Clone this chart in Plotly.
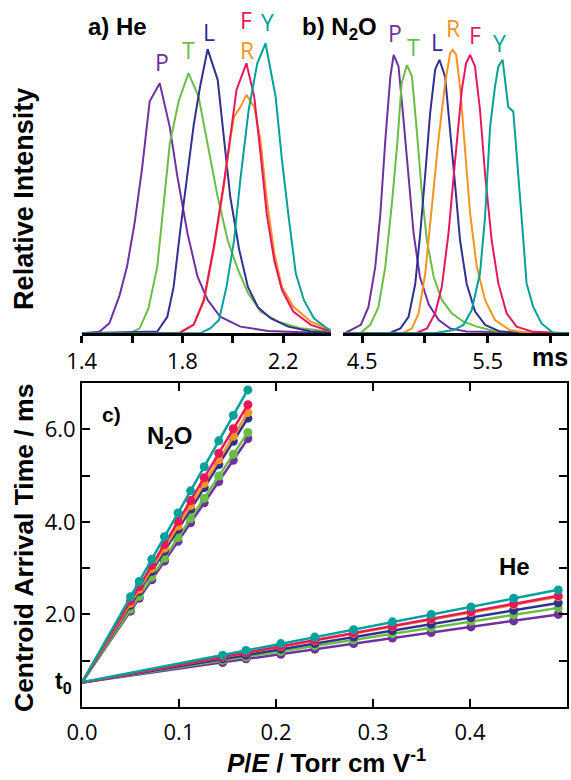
import numpy as np
import plotly.graph_objects as go

# ---------------- arrival-time distributions, He buffer (ms, relative intensity)
HE_P_X = [1.40, 1.47, 1.51, 1.55, 1.58, 1.61, 1.64, 1.67, 1.71, 1.75, 1.78, 1.82, 1.86, 1.90, 1.95, 2.03, 2.14, 2.39]
HE_P_Y = [0, 0.005, 0.035, 0.13, 0.23, 0.38, 0.57, 0.80, 0.862, 0.71, 0.54, 0.345, 0.195, 0.115, 0.057, 0.023, 0.008, 0]
HE_T_X = [1.40, 1.59, 1.63, 1.665, 1.70, 1.725, 1.75, 1.785, 1.824, 1.864, 1.90, 1.94, 1.98, 2.02, 2.06, 2.11, 2.18, 2.27, 2.39]
HE_T_Y = [0, 0, 0.017, 0.086, 0.23, 0.44, 0.655, 0.80, 0.897, 0.816, 0.655, 0.47, 0.32, 0.22, 0.14, 0.075, 0.04, 0.017, 0.005]
HE_L_X = [1.40, 1.70, 1.74, 1.765, 1.79, 1.82, 1.845, 1.87, 1.90, 1.94, 1.965, 1.99, 2.025, 2.06, 2.10, 2.15, 2.22, 2.31, 2.39]
HE_L_Y = [0, 0.006, 0.057, 0.16, 0.345, 0.55, 0.72, 0.85, 0.98, 0.874, 0.68, 0.47, 0.29, 0.16, 0.09, 0.052, 0.023, 0.006, 0.002]
HE_R_X = [1.40, 1.79, 1.845, 1.885, 1.925, 1.965, 1.99, 2.005, 2.03, 2.054, 2.085, 2.11, 2.135, 2.165, 2.195, 2.24, 2.31, 2.39]
HE_R_Y = [0, 0.002, 0.03, 0.11, 0.29, 0.51, 0.667, 0.747, 0.78, 0.822, 0.78, 0.667, 0.46, 0.276, 0.16, 0.092, 0.04, 0.012]
HE_F_X = [1.40, 1.79, 1.845, 1.885, 1.925, 1.965, 1.995, 2.015, 2.054, 2.085, 2.11, 2.135, 2.165, 2.195, 2.24, 2.31, 2.39]
HE_F_Y = [0, 0.002, 0.03, 0.115, 0.30, 0.52, 0.71, 0.84, 0.931, 0.816, 0.62, 0.41, 0.25, 0.15, 0.075, 0.029, 0.006]
HE_Y_X = [1.40, 1.87, 1.91, 1.945, 1.975, 2.005, 2.03, 2.063, 2.097, 2.13, 2.17, 2.195, 2.222, 2.25, 2.282, 2.322, 2.39]
HE_Y_Y = [0, 0, 0.017, 0.046, 0.16, 0.32, 0.53, 0.77, 0.93, 1.0, 0.816, 0.60, 0.40, 0.207, 0.115, 0.052, 0.006]

# ---------------- arrival-time distributions, N2O buffer
N2O_P_X = [4.35, 4.37, 4.49, 4.55, 4.605, 4.645, 4.685, 4.725, 4.751, 4.79, 4.83, 4.87, 4.91, 4.96, 5.03, 5.11, 5.20, 5.33, 6.15]
N2O_P_Y = [0, 0.002, 0.029, 0.09, 0.23, 0.41, 0.667, 0.885, 0.96, 0.92, 0.735, 0.53, 0.345, 0.195, 0.10, 0.046, 0.017, 0.006, 0]
N2O_T_X = [4.35, 4.49, 4.565, 4.63, 4.685, 4.74, 4.78, 4.815, 4.857, 4.897, 4.937, 4.976, 5.016, 5.07, 5.135, 5.214, 5.307, 5.413, 5.545, 5.70, 6.15]
N2O_T_Y = [0, 0.002, 0.029, 0.09, 0.23, 0.46, 0.655, 0.862, 0.925, 0.885, 0.69, 0.483, 0.32, 0.195, 0.115, 0.069, 0.04, 0.023, 0.009, 0.002, 0]
N2O_L_X = [4.35, 4.725, 4.805, 4.87, 4.923, 4.963, 5.003, 5.042, 5.082, 5.116, 5.161, 5.201, 5.241, 5.28, 5.333, 5.40, 5.48, 5.60, 5.76, 6.15]
N2O_L_Y = [0, 0.002, 0.017, 0.057, 0.17, 0.345, 0.55, 0.76, 0.91, 0.943, 0.885, 0.71, 0.51, 0.32, 0.17, 0.075, 0.029, 0.006, 0.002, 0]
N2O_R_X = [4.35, 4.83, 4.897, 4.95, 5.003, 5.056, 5.108, 5.161, 5.201, 5.222, 5.249, 5.28, 5.32, 5.36, 5.413, 5.479, 5.558, 5.677, 5.81, 6.15]
N2O_R_Y = [0, 0.002, 0.017, 0.069, 0.207, 0.437, 0.667, 0.862, 0.966, 0.977, 0.96, 0.85, 0.644, 0.414, 0.23, 0.115, 0.046, 0.011, 0.002, 0]
N2O_F_X = [4.35, 4.937, 5.016, 5.082, 5.135, 5.188, 5.241, 5.294, 5.328, 5.36, 5.399, 5.439, 5.479, 5.532, 5.585, 5.651, 5.73, 5.862, 6.15]
N2O_F_Y = [0, 0.002, 0.017, 0.069, 0.161, 0.345, 0.598, 0.839, 0.931, 0.96, 0.92, 0.77, 0.55, 0.32, 0.172, 0.069, 0.023, 0.005, 0]
N2O_Y_X = [4.35, 5.095, 5.228, 5.307, 5.373, 5.439, 5.479, 5.519, 5.558, 5.585, 5.619, 5.664, 5.704, 5.73, 5.77, 5.81, 5.862, 5.929, 6.02, 6.15]
N2O_Y_Y = [0, 0.002, 0.011, 0.029, 0.08, 0.207, 0.40, 0.71, 0.85, 0.92, 0.943, 0.78, 0.765, 0.63, 0.40, 0.172, 0.092, 0.034, 0.002, 0]

# ---------------- centroid arrival time vs P/E
HE_PE = [0.145, 0.169, 0.205, 0.240, 0.280, 0.320, 0.360, 0.401, 0.445, 0.491]
HE_TD_P = [0.96, 1.04, 1.14, 1.25, 1.37, 1.49, 1.61, 1.73, 1.86, 2.00]
HE_TD_T = [1.01, 1.08, 1.20, 1.32, 1.45, 1.58, 1.71, 1.85, 1.99, 2.14]
HE_TD_L = [1.04, 1.12, 1.25, 1.37, 1.51, 1.65, 1.79, 1.93, 2.09, 2.25]
HE_TD_R = [1.08, 1.17, 1.30, 1.43, 1.59, 1.74, 1.89, 2.04, 2.21, 2.38]
HE_TD_F = [1.08, 1.17, 1.31, 1.44, 1.60, 1.75, 1.90, 2.06, 2.23, 2.40]
HE_TD_Y = [1.12, 1.22, 1.37, 1.51, 1.67, 1.84, 2.00, 2.16, 2.35, 2.53]

N2O_PE = [0.050, 0.059, 0.072, 0.085, 0.099, 0.112, 0.126, 0.141, 0.156, 0.171]
N2O_TD_P = [2.07, 2.35, 2.75, 3.15, 3.58, 3.98, 4.41, 4.87, 5.33, 5.80]
N2O_TD_T = [2.11, 2.39, 2.81, 3.22, 3.66, 4.07, 4.51, 4.99, 5.46, 5.93]
N2O_TD_L = [2.20, 2.50, 2.93, 3.37, 3.84, 4.27, 4.74, 5.24, 5.74, 6.24]
N2O_TD_R = [2.24, 2.54, 2.99, 3.43, 3.91, 4.35, 4.83, 5.34, 5.85, 6.36]
N2O_TD_F = [2.29, 2.60, 3.06, 3.51, 4.01, 4.46, 4.95, 5.48, 6.01, 6.53]
N2O_TD_Y = [2.38, 2.71, 3.19, 3.68, 4.19, 4.67, 5.19, 5.75, 6.30, 6.85]

LABELS = ["P", "T", "L", "R", "F", "Y"]
COLORS = {"P": "#7030a0", "T": "#6abd45", "L": "#2e3192",
          "R": "#f7931e", "F": "#e8175d", "Y": "#00a19a"}

# peak-label anchor positions (ms, relative intensity)
HE_LABEL_POS = {"P": (1.718, 0.937), "T": (1.824, 0.977), "L": (1.904, 1.040),
                "R": (2.057, 0.977), "F": (2.054, 1.080), "Y": (2.136, 1.075)}
N2O_LABEL_POS = {"P": (4.764, 1.034), "T": (4.910, 0.988), "L": (5.095, 1.006),
                 "R": (5.227, 1.052), "F": (5.399, 1.029), "Y": (5.598, 1.000)}

he_atd = {"P": (HE_P_X, HE_P_Y), "T": (HE_T_X, HE_T_Y), "L": (HE_L_X, HE_L_Y),
          "R": (HE_R_X, HE_R_Y), "F": (HE_F_X, HE_F_Y), "Y": (HE_Y_X, HE_Y_Y)}
n2o_atd = {"P": (N2O_P_X, N2O_P_Y), "T": (N2O_T_X, N2O_T_Y), "L": (N2O_L_X, N2O_L_Y),
           "R": (N2O_R_X, N2O_R_Y), "F": (N2O_F_X, N2O_F_Y), "Y": (N2O_Y_X, N2O_Y_Y)}
he_td = {"P": HE_TD_P, "T": HE_TD_T, "L": HE_TD_L, "R": HE_TD_R, "F": HE_TD_F, "Y": HE_TD_Y}
n2o_td = {"P": N2O_TD_P, "T": N2O_TD_T, "L": N2O_TD_L, "R": N2O_TD_R, "F": N2O_TD_F, "Y": N2O_TD_Y}

TICK_FONT = dict(family="Open Sans", size=22, color="black")
BOLD = "Liberation Sans"

fig = go.Figure()

# panel a / b: arrival time distributions
for lab in LABELS:
    x, y = he_atd[lab]
    fig.add_trace(go.Scatter(x=x, y=y, mode="lines", xaxis="x", yaxis="y",
                             line=dict(color=COLORS[lab], width=2), showlegend=False))
    x, y = n2o_atd[lab]
    fig.add_trace(go.Scatter(x=x, y=y, mode="lines", xaxis="x2", yaxis="y2",
                             line=dict(color=COLORS[lab], width=2), showlegend=False))

# panel c: centroid arrival times with linear fits back to t0
intercepts = []
for pe, td in ((HE_PE, he_td), (N2O_PE, n2o_td)):
    for lab in LABELS:
        slope, icpt = np.polyfit(pe, td[lab], 1)
        intercepts.append(icpt)
        xf = np.array([0.0, pe[-1]])
        fig.add_trace(go.Scatter(x=xf, y=icpt + slope * xf, mode="lines",
                                 xaxis="x3", yaxis="y3",
                                 line=dict(color=COLORS[lab], width=2.5),
                                 showlegend=False))
        fig.add_trace(go.Scatter(x=pe, y=td[lab], mode="markers",
                                 xaxis="x3", yaxis="y3",
                                 marker=dict(color=COLORS[lab], size=9),
                                 showlegend=False))
t0 = float(np.mean(intercepts))

annotations = []
for pos, xr, yr in ((HE_LABEL_POS, "x", "y"), (N2O_LABEL_POS, "x2", "y2")):
    for lab in LABELS:
        ax_, ay_ = pos[lab]
        annotations.append(dict(x=ax_, y=ay_, xref=xr, yref=yr, text=lab,
                                showarrow=False, xanchor="center", yanchor="middle",
                                font=dict(family="Open Sans", size=23, color=COLORS[lab])))


def paper_text(text, x, y, size, angle=0, family=BOLD, yanchor="middle"):
    annotations.append(dict(x=x, y=y, xref="paper", yref="paper", text=text,
                            showarrow=False, xanchor="center", yanchor=yanchor,
                            textangle=angle,
                            font=dict(family=family, size=size, color="black")))


paper_text("<b>a) He</b>", 0.2058, 0.9654, 24)
paper_text("<b>b) N<sub>2</sub>O</b>", 0.5954, 0.9640, 24)
paper_text("<b>ms</b>", 0.9632, 0.5423, 25)
paper_text("<b>Relative Intensity</b>", 0.042, 0.745, 27, angle=-90)
paper_text("<b>Centroid Arrival Time / ms</b>", 0.042, 0.2974, 26.5, angle=-90)
paper_text("<b><i>P</i>/<i>E</i> / Torr cm V<sup>-1</sup></b>", 0.5718, 0.0, 26, yanchor="bottom")
paper_text("<b>c)</b>", 0.1944, 0.4692, 21)
paper_text("<b>N<sub>2</sub>O</b>", 0.2977, 0.4397, 24)
paper_text("<b>He</b>", 0.9002, 0.2731, 24)
annotations.append(dict(x=0.130, y=t0, xref="paper", yref="y3",
                        text="<b>t<sub>0</sub></b>", showarrow=False,
                        xanchor="right", yanchor="middle",
                        font=dict(family=BOLD, size=23, color="black")))

top_x_common = dict(showline=True, linecolor="black", linewidth=2.5,
                    ticks="outside", ticklen=7, tickwidth=2.5, tickcolor="black",
                    showgrid=False, zeroline=False, tickfont=TICK_FONT,
                    automargin=False)
top_y_common = dict(visible=False, range=[0, 1.1], domain=[0.5727, 0.9817],
                    automargin=False)
frame = dict(showline=True, mirror="ticks", linecolor="black", linewidth=2,
             ticks="inside", ticklen=8, tickwidth=1.5, tickcolor="black",
             showgrid=False, zeroline=False, tickfont=TICK_FONT, automargin=False)

fig.update_layout(
    width=571, height=780,
    margin=dict(l=0, r=0, t=0, b=0, autoexpand=False),
    paper_bgcolor="white", plot_bgcolor="white",
    xaxis=dict(domain=[0.1431, 0.5797], range=[1.4, 2.39],
               tickvals=[1.4, 1.8, 2.2],
               minor=dict(tickvals=[1.6, 2.0], ticks="outside", ticklen=7,
                          tickwidth=2.5, tickcolor="black"),
               anchor="y", **top_x_common),
    yaxis=dict(anchor="x", **top_y_common),
    xaxis2=dict(domain=[0.6012, 0.9970], range=[4.35, 6.15],
                tickvals=[4.5, 5.5],
                minor=dict(tickvals=[5.0, 6.0], ticks="outside", ticklen=7,
                           tickwidth=2.5, tickcolor="black"),
                anchor="y2", **top_x_common),
    yaxis2=dict(anchor="x2", **top_y_common),
    xaxis3=dict(domain=[0.1436, 0.9930], range=[0, 0.5], anchor="y3",
                tickvals=[0, 0.1, 0.2, 0.3, 0.4],
                ticktext=["0.0", "0.1", "0.2", "0.3", "0.4"],
                ticklabelstandoff=5, **frame),
    yaxis3=dict(domain=[0.0936, 0.5090], range=[0, 7], anchor="x3",
                tickvals=[2, 4, 6], ticktext=["2.0", "4.0", "6.0"],
                minor=dict(tickvals=[1, 3, 5], ticks="inside", ticklen=8,
                           tickwidth=1.5, tickcolor="black"),
                **frame),
    annotations=annotations,
)

fig.write_html("out.html")
